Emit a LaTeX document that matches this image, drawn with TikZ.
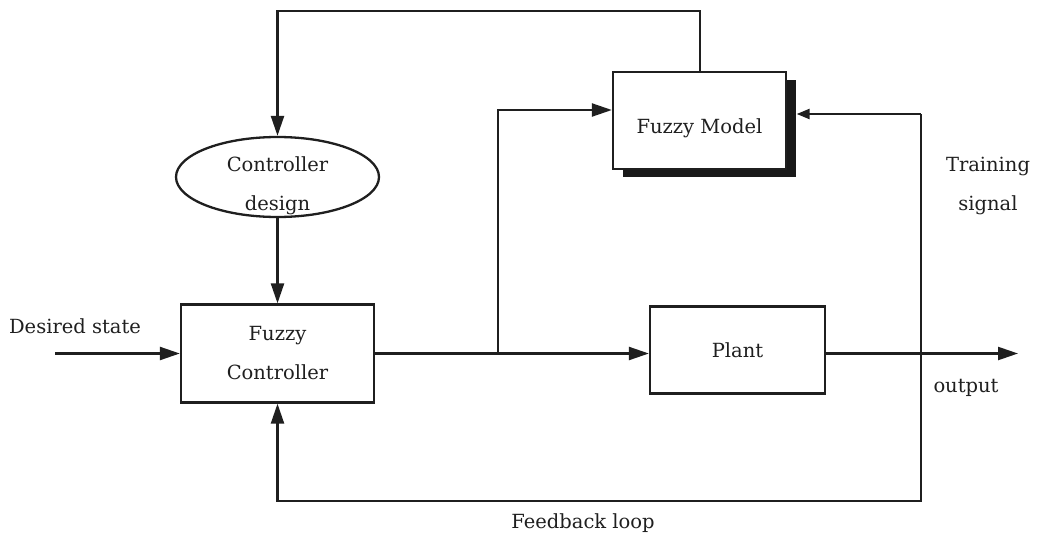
\documentclass[tikz,border=0pt]{standalone}
\usepackage{fontspec}
\setmainfont{DejaVu Serif}
\usetikzlibrary{arrows.meta,shapes.geometric,shadows}
\begin{document}
\begin{tikzpicture}[x=1pt,y=-1pt,
  wire/.style={draw=black!88, line width=2.3pt},
  arr/.style={wire, -{Triangle[length=20pt,width=13pt]}},
  arrsmall/.style={wire, -{Triangle[length=13pt,width=10pt]}},
  lbl/.style={font=\fontsize{19.5}{39}\selectfont, text=black!88, align=center, inner sep=0pt},
  block/.style={lbl, draw=black!88, line width=2.3pt, fill=white, rectangle},
]
\useasboundingbox (0,0) rectangle (1038,535);
\fill[white] (0,0) rectangle (1038,535);

% blocks
\node[block, minimum width=193pt, minimum height=98pt] (fc) at (277.5,353.5) {Fuzzy\\Controller};
\node[block, minimum width=175pt, minimum height=87pt] (pl) at (737.5,350) {Plant};
% model block: label sits a little below the middle, box casts a solid shadow
\node[block, minimum width=173pt, minimum height=97pt, text height=25pt, text depth=0pt,
      drop shadow={opacity=1, fill=black!90, shadow xshift=9.5pt, shadow yshift=-7.5pt}]
      (fm) at (699.5,120.5) {Fuzzy Model};
\node[ellipse, draw=black!88, line width=2.3pt, minimum width=203pt, minimum height=80pt,
      inner sep=0pt] (cd) at (277.5,177) {};
\node[lbl] (cdt) at (277.5,185.5) {Controller\\design};

% routing points
\coordinate (tl) at (277.5,11);
\coordinate (tr) at (700,11);
\coordinate (ds) at (55,353.5);
\coordinate (br) at (498,353.5);
\coordinate (bt) at (498,110);
\coordinate (out) at (1018,353.5);
\coordinate (rt) at (921,114);
\coordinate (rb) at (921,501);
\coordinate (lb) at (277.5,501);
\coordinate (se) at ([xshift=9.5pt]fm.east);

% connectors
\draw[arr] (fm.north -| tr) -- (tr) -- (tl) -- (cd.north);
\draw[arr] (cd.south) -- (fc.north);
\draw[arr] (ds) -- (fc.west);
\draw[arr] (fc.east) -- (fc.east -| pl.west);
\draw[arr] (br) -- (bt) -- (fm.west |- bt);
\draw[arr] (fc.east -| pl.east) -- (out);
\draw[arr] (rt) -- (rb) -- (lb) -- (fc.south);
\draw[arrsmall] (rt) -- (se |- rt);

% labels
\node[lbl, anchor=base] (lds) at (75,333) {Desired state};
\node[lbl, anchor=base] (lout) at (966,392) {output};
\node[lbl, anchor=base] (lfb) at (583,528) {Feedback loop};
\node[lbl] (ltr) at (988,186) {Training\\signal};
\end{tikzpicture}
\end{document}
